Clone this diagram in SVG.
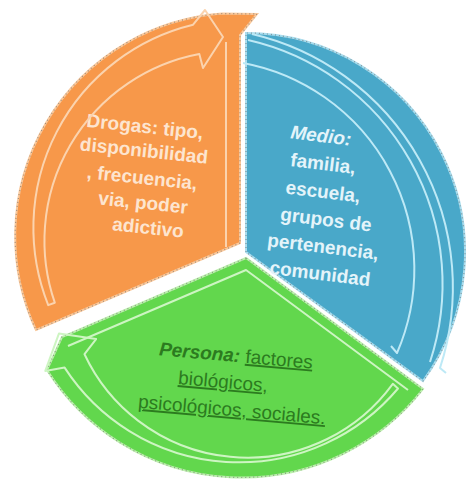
<svg xmlns="http://www.w3.org/2000/svg" width="469" height="484" viewBox="0 0 469 484">
<style>
.seg-o{fill:#F7984A;stroke:#FAC99C;stroke-width:2}
.seg-b{fill:#49A8C9;stroke:#A9DDEE;stroke-width:2}
.seg-g{fill:#62D74D;stroke:#BDF0AE;stroke-width:2}
.dots{fill:none;stroke:#5a5a5a;stroke-width:1.2;stroke-dasharray:1 3;opacity:.55}
.lbl{font-family:"Liberation Sans",Arial,sans-serif;font-weight:bold;font-size:19px;text-anchor:middle}
.lo{fill:#FDE5D0}
.lb{fill:#E4F4FA}
.lg{fill:#2C7B1F;font-weight:normal}
.ao{fill:none;stroke:#FBD3AE;stroke-width:2;stroke-linejoin:round}
.ab{fill:none;stroke:#BDE9F6;stroke-width:2;stroke-linejoin:round}
.ag{fill:none;stroke:#CDF5C2;stroke-width:2;stroke-linejoin:round}
</style>
<defs>
<path id="p-o" d="M240,243 L36,330 A223,223 0 0 1 222,13.5 L257,14 L240,35 Z"/>
<path id="p-b" d="M246,252 L246,33 A219,219 0 0 1 423,381 Z"/>
<path id="p-g" d="M246,258 L62,337 L47,370 A230,230 0 0 0 423,389 Z"/>
</defs>
<g id="drogas">
<use href="#p-o" class="seg-o"/>
<use href="#p-o" class="dots"/>
<line x1="226" y1="42" x2="226" y2="247" class="ao"/>
<text class="lbl lo" x="145" y="133" transform="rotate(6 145 127)">Drogas: tipo,</text>
<text class="lbl lo" x="144" y="157" transform="rotate(6 144 151)">disponibilidad</text>
<text class="lbl lo" x="142" y="184" transform="rotate(6 142 178)">, frecuencia,</text>
<text class="lbl lo" x="143" y="209" transform="rotate(6 143 203)">via, poder</text>
<text class="lbl lo" x="148" y="234" transform="rotate(6 148 228)">adictivo</text>
</g>
<g id="medio">
<use href="#p-b" class="seg-b"/>
<use href="#p-b" class="dots"/>
<text class="lbl lb" x="321" y="142" font-style="italic" transform="rotate(7 321 136)">Medio:</text>
<text class="lbl lb" x="323" y="170" transform="rotate(7 323 164)">familia,</text>
<text class="lbl lb" x="323" y="198" transform="rotate(7 323 192)">escuela,</text>
<text class="lbl lb" x="326" y="226" transform="rotate(7 326 220)">grupos de</text>
<text class="lbl lb" x="323" y="253" transform="rotate(7 323 247)">pertenencia,</text>
<text class="lbl lb" x="320" y="280" transform="rotate(7 320 274)">comunidad</text>
</g>
<g id="persona">
<use href="#p-g" class="seg-g"/>
<use href="#p-g" class="dots"/>
<polyline points="68,346 246,270 408,390" class="ag"/>
<text class="lbl lg" x="236" y="362" transform="rotate(5 236 356)"><tspan font-style="italic" font-weight="bold">Persona:</tspan> <tspan text-decoration="underline">factores</tspan></text>
<text class="lbl lg" x="223" y="388" text-decoration="underline" transform="rotate(5 223 382)">biológicos,</text>
<text class="lbl lg" x="232" y="416" text-decoration="underline" transform="rotate(5 232 410)">psicológicos, sociales.</text>
</g>
<g id="connectors">
<path class="ao" d="M48.2,305.1 A209,209 0 0 1 193.1,24.7 L205,10 L223,37 L203,68 L199.3,54.1 A190,190 0 0 0 54.8,302.7 Z"/>
<path class="ab" d="M252,34 A260,260 0 0 1 440,368 L446,373"/>
<path class="ab" d="M248,40 A250,250 0 0 1 430,362"/>
<path class="ab" d="M243,63 A210,210 0 0 1 397,353 L391,346"/>
<path class="ag" d="M398,388.5 A208,208 0 0 1 64.6,367.6 L45.3,370.9 L59,333.4 L96.1,339.1 L84.5,354.2 A180,180 0 0 0 392.8,383.8 Z"/>
</g>
</svg>
